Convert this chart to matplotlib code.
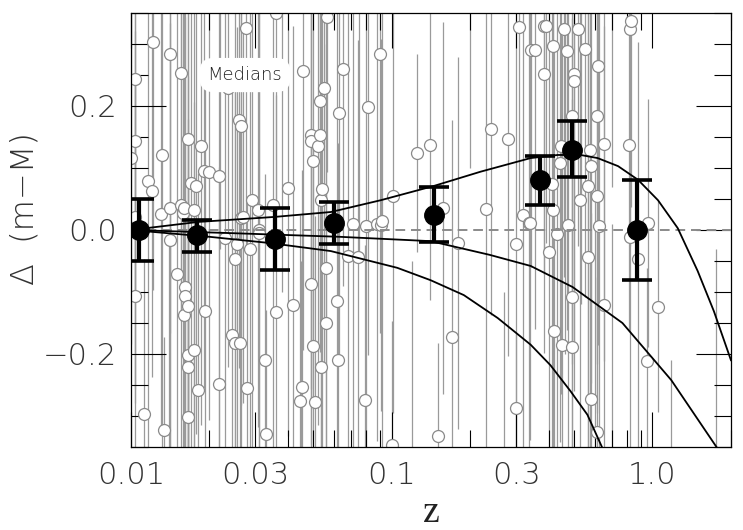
import numpy as np
import matplotlib
matplotlib.use('Agg')
import matplotlib.pyplot as plt
from matplotlib.ticker import FixedLocator, NullFormatter

# individual objects: redshift, residual, error
z = [0.0100, 0.0104, 0.0104, 0.0104, 0.0104, 0.0112, 0.0116, 0.0120, 0.0121, 0.0130,
     0.0131, 0.0134, 0.0141, 0.0141, 0.0141, 0.0150, 0.0155, 0.0155, 0.0158, 0.0159,
     0.0160, 0.0161, 0.0161, 0.0165, 0.0165, 0.0166, 0.0166, 0.0166, 0.0170, 0.0175,
     0.0175, 0.0178, 0.0180, 0.0186, 0.0190, 0.0193, 0.0200, 0.0217, 0.0217, 0.0229,
     0.0235, 0.0244, 0.0250, 0.0250, 0.0256, 0.0260, 0.0262, 0.0265, 0.0265, 0.0270,
     0.0276, 0.0278, 0.0286, 0.0290, 0.0306, 0.0310, 0.0310, 0.0327, 0.0330, 0.0350,
     0.0360, 0.0360, 0.0400, 0.0420, 0.0443, 0.0453, 0.0456, 0.0490, 0.0490, 0.0490,
     0.0500, 0.0500, 0.0510, 0.0520, 0.0530, 0.0530, 0.0535, 0.0536, 0.0540, 0.0550,
     0.0560, 0.0560, 0.0565, 0.0615, 0.0620, 0.0625, 0.0650, 0.0680, 0.0710, 0.0740,
     0.0790, 0.0800, 0.0810, 0.0880, 0.0900, 0.0910, 0.0920, 0.1000, 0.1010, 0.1250,
     0.1400, 0.1500, 0.1570, 0.1710, 0.1790, 0.2290, 0.2410, 0.2780, 0.3000, 0.3000,
     0.3090, 0.3180, 0.3350, 0.3400, 0.3410, 0.3540, 0.3840, 0.3900, 0.3840, 0.4000,
     0.4100, 0.4170, 0.4170, 0.4200, 0.4300, 0.4400, 0.4450, 0.4500, 0.4560, 0.4720,
     0.4760, 0.4900, 0.4900, 0.4900, 0.5000, 0.5000, 0.5200, 0.5250, 0.5500, 0.5670,
     0.5670, 0.5740, 0.5800, 0.5800, 0.6150, 0.6150, 0.6150, 0.6200, 0.6260, 0.6500,
     0.6500, 0.8100, 0.8200, 0.8300, 0.8200, 0.8800, 0.9500, 0.9650, 1.0500,
     0.0220, 0.0380, 0.0750, 0.2000, 0.4600, 0.5300, 0.7000,
     0.0140, 0.0450, 0.1200, 0.2700, 0.6000, 0.7000, 1.1800, 1.7600]
dm = [0.116, 0.244, 0.144, 0.021, -0.106, -0.297, 0.079, 0.063, 0.303, 0.026,
      0.121, -0.323, 0.284, 0.035, -0.016, -0.071, 0.253, 0.040, 0.027, -0.137,
      0.035, -0.092, -0.106, 0.147, -0.221, -0.123, -0.202, -0.302, 0.076, 0.032,
      -0.194, 0.071, -0.258, 0.135, 0.095, -0.130, 0.094, 0.087, -0.248, -0.013,
      0.229, -0.170, -0.183, -0.047, -0.023, 0.177, -0.183, 0.168, 0.019, 0.021,
      0.326, -0.255, -0.031, 0.048, 0.032, 0.000, -0.005, -0.210, -0.329, 0.040,
      0.350, -0.132, 0.068, -0.121, -0.276, -0.253, 0.256, 0.153, 0.143, -0.087,
      0.111, -0.187, -0.277, 0.135, 0.208, 0.153, 0.048, -0.221, 0.066, 0.229,
      -0.061, -0.150, 0.344, -0.115, -0.210, 0.189, 0.260, -0.042, 0.010, -0.044,
      -0.274, 0.006, 0.198, 0.010, 0.284, 0.008, 0.015, -0.347, 0.055, 0.124,
      0.137, -0.332, 0.035, -0.173, -0.021, 0.034, 0.163, 0.147, -0.023, -0.287,
      0.327, 0.024, 0.011, 0.011, 0.290, 0.290, 0.329, 0.329, 0.252, -0.035,
      0.074, 0.297, 0.032, -0.163, -0.006, 0.108, 0.135, -0.185, 0.324, 0.289,
      0.008, 0.184, -0.108, -0.189, 0.252, 0.240, 0.324, 0.048, 0.292, 0.071,
      -0.044, 0.129, 0.103, -0.273, 0.184, 0.055, -0.326, 0.265, 0.006, 0.139,
      -0.121, 0.137, 0.324, 0.337, -0.011, -0.047, -0.211, 0.011, -0.124,
      0.42, 0.40, 0.45, 0.40, 0.40, 0.38, 0.42,
      -0.42, -0.40, -0.45, -0.40, -0.40, -0.44, -0.45, -0.45]
err = [0.30, 0.35, 0.40, 0.30, 0.35, 0.25, 0.45, 0.30, 0.40, 0.35,
       0.50, 0.15, 0.45, 0.40, 0.35, 0.45, 0.40, 0.50, 0.40, 0.50,
       0.35, 0.55, 0.45, 0.55, 0.40, 0.50, 0.45, 0.30, 0.50, 0.45,
       0.40, 0.40, 0.35, 0.45, 0.35, 0.40, 0.40, 0.50, 0.35, 0.40,
       0.45, 0.40, 0.45, 0.50, 0.35, 0.40, 0.35, 0.45, 0.40, 0.30,
       0.35, 0.30, 0.45, 0.40, 0.35, 0.45, 0.40, 0.30, 0.20, 0.45,
       0.30, 0.35, 0.40, 0.45, 0.30, 0.35, 0.45, 0.50, 0.40, 0.45,
       0.40, 0.35, 0.30, 0.45, 0.40, 0.35, 0.45, 0.40, 0.50, 0.45,
       0.40, 0.45, 0.25, 0.50, 0.35, 0.40, 0.35, 0.45, 0.40, 0.35,
       0.25, 0.45, 0.40, 0.35, 0.45, 0.30, 0.40, 0.20, 0.35, 0.16,
       0.25, 0.15, 0.30, 0.35, 0.30, 0.40, 0.30, 0.35, 0.40, 0.12,
       0.30, 0.45, 0.40, 0.35, 0.35, 0.45, 0.40, 0.35, 0.45, 0.40,
       0.50, 0.45, 0.40, 0.45, 0.50, 0.45, 0.40, 0.50, 0.40, 0.45,
       0.50, 0.40, 0.45, 0.40, 0.45, 0.50, 0.35, 0.45, 0.40, 0.45,
       0.40, 0.50, 0.35, 0.30, 0.40, 0.35, 0.25, 0.45, 0.40, 0.35,
       0.45, 0.30, 0.35, 0.30, 0.40, 0.35, 0.15, 0.20, 0.17,
       0.45, 0.50, 0.50, 0.30, 0.60, 0.50, 0.35,
       0.40, 0.35, 0.40, 0.30, 0.50, 0.45, 0.24, 0.42]

# binned medians
med_z = [0.0107, 0.0179, 0.0356, 0.060, 0.145, 0.369, 0.49, 0.87]
med_dm = [0.000, -0.008, -0.015, 0.012, 0.024, 0.081, 0.129, 0.000]
med_lo = [0.050, 0.027, 0.050, 0.035, 0.043, 0.041, 0.044, 0.081]
med_hi = [0.050, 0.024, 0.050, 0.033, 0.045, 0.038, 0.047, 0.081]

# model curves
c1_z = [0.010, 0.0181, 0.0353, 0.0584, 0.0907, 0.145, 0.219, 0.341, 0.433,
        0.530, 0.616, 0.738, 0.88, 1.05, 1.25, 1.49, 1.72, 2.0]
c1_dm = [0.000, 0.013, 0.021, 0.029, 0.048, 0.071, 0.094, 0.116, 0.121,
         0.121, 0.116, 0.103, 0.081, 0.048, 0.003, -0.066, -0.131, -0.210]
c2_z = [0.010, 0.024, 0.0632, 0.141, 0.237, 0.341, 0.494, 0.767, 1.18, 1.76]
c2_dm = [0.000, -0.005, -0.011, -0.018, -0.040, -0.058, -0.092, -0.150, -0.242, -0.350]
c3_z = [0.010, 0.020, 0.034, 0.0584, 0.105, 0.141, 0.189, 0.255, 0.341,
        0.406, 0.485, 0.563, 0.640]
c3_dm = [0.000, -0.011, -0.021, -0.034, -0.061, -0.081, -0.105, -0.142, -0.185,
         -0.218, -0.260, -0.298, -0.350]

FONT = 'DejaVu Sans'

fig = plt.figure(figsize=(7.43, 5.30), dpi=100)
ax = fig.add_axes([0.1763, 0.1566, 0.8075, 0.8189])

ax.errorbar(z, dm, yerr=err, fmt='none', ecolor='#9a9a9a', elinewidth=0.9, zorder=1)
ax.plot(z, dm, 'o', ms=8.6, mfc='white', mec='#8a8a8a', mew=0.9, zorder=2)
ax.axhline(0, color='#8a8a8a', lw=1.4, ls=(0, (5, 3)), zorder=3)

for cz, cd in [(c1_z, c1_dm), (c2_z, c2_dm), (c3_z, c3_dm)]:
    ax.plot(cz, cd, color='black', lw=1.3, zorder=4)

ax.errorbar(med_z, med_dm, yerr=[med_lo, med_hi], fmt='o', color='black', ms=14,
            elinewidth=3, capsize=11, capthick=2.6, zorder=5)

ax.text(0.19, 0.857, 'Medians', transform=ax.transAxes, ha='center', va='center',
        fontsize=13, family=FONT, fontweight='light', color='#222222', zorder=6,
        bbox=dict(boxstyle='round,pad=0.45,rounding_size=0.8', fc='white', ec='none'))

ax.set_xscale('log')
ax.set_xlim(0.01, 2.0)
ax.set_ylim(-0.35, 0.35)

ax.xaxis.set_major_locator(FixedLocator([0.01, 0.03, 0.1, 0.3, 1.0]))
ax.set_xticklabels(['0.01', '0.03', '0.1', '0.3', '1.0'])
minor_x = [0.02, 0.04, 0.05, 0.06, 0.07, 0.08, 0.09, 0.2, 0.4, 0.5, 0.6, 0.7, 0.8, 0.9, 2.0]
ax.xaxis.set_minor_locator(FixedLocator(minor_x))
ax.xaxis.set_minor_formatter(NullFormatter())
ax.set_yticks([-0.2, 0.0, 0.2])
ax.set_yticklabels(['\u22120.2', '0.0', '0.2'])
ax.yaxis.set_minor_locator(FixedLocator(np.arange(-0.35, 0.351, 0.05)))

ax.tick_params(which='both', direction='in', top=True, right=True, width=0.8, color='black')
ax.tick_params(which='major', length=25, pad=10)
ax.tick_params(which='minor', length=12.5)
for lab in ax.get_xticklabels() + ax.get_yticklabels():
    lab.set_family(FONT)
    lab.set_fontweight('light')
    lab.set_fontsize(22)
    lab.set_color('#333333')

for s in ax.spines.values():
    s.set_linewidth(0.9)

ax.set_xlabel('z', family='Liberation Serif', fontsize=27, labelpad=4, color='#222222')
ax.set_ylabel('\u0394  (m\u2212M)', family=FONT, fontweight='light', fontsize=23,
              color='#333333', va='center')
ax.yaxis.set_label_coords(-0.178, 0.55)

fig.savefig('out.png', dpi=100)
